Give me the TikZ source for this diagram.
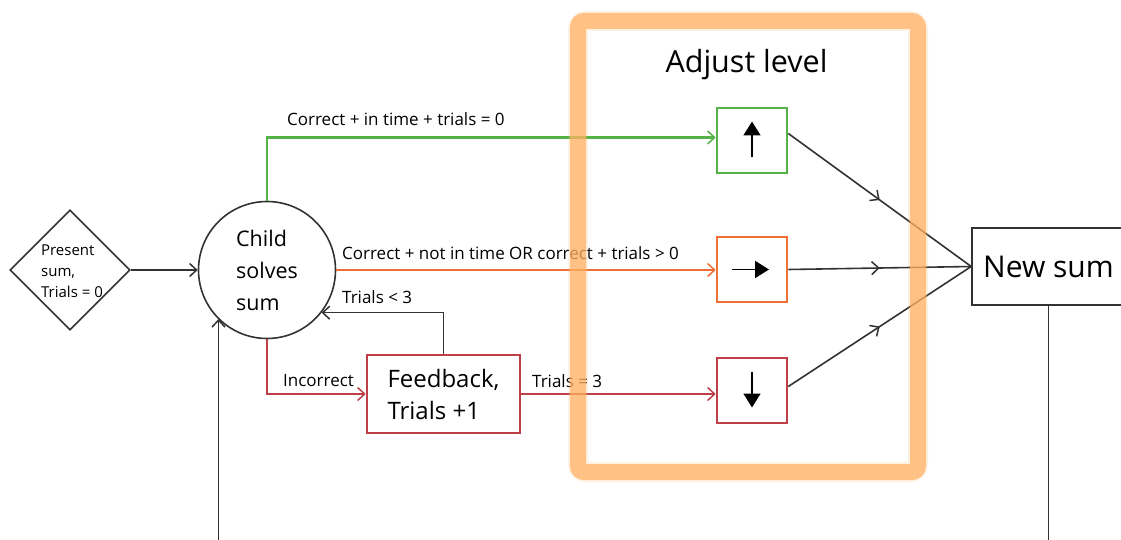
\documentclass[tikz,border=0pt]{standalone}
\usepackage{fontspec}
\setmainfont{Open Sans}
\usetikzlibrary{arrows.meta,decorations.markings,shapes.geometric,calc}

\definecolor{linegray}{RGB}{50,50,50}
\definecolor{okgreen}{RGB}{84,178,72}
\definecolor{slowor}{RGB}{238,112,52}
\definecolor{wrongred}{RGB}{189,64,72}
\definecolor{bandor}{RGB}{255,176,96}

\tikzset{
  opentip/.style={-{Straight Barb[length=7pt,width=13pt,line width=1.5pt]}},
  flow/.style={draw=linegray, line width=1.6pt},
  colflow/.style={draw=#1, line width=2.6pt},
  midtip/.style={postaction={decorate},
    decoration={markings, mark=at position 0.5 with
      {\arrow{Straight Barb[length=7pt,width=13pt,line width=1.5pt]}}}},
  levelbox/.style={draw=#1, line width=2.6pt, minimum width=70pt, minimum height=65pt, inner sep=0pt},
  stepbox/.style={draw=#1, line width=2.6pt, inner sep=0pt, align=left},
  lbl/.style={anchor=base west, inner sep=0pt, font=\fontsize{17}{20}\selectfont},
  bigarrow/.style={line width=1.8pt, -{Triangle[length=14pt,width=17pt]}}
}

\begin{document}
\begin{tikzpicture}[x=1pt,y=-1pt]
\useasboundingbox (0,0) rectangle (1121,540);

% start, decision and level boxes
\node[diamond, draw=linegray, line width=1.6pt, minimum width=120pt, minimum height=120pt, inner sep=0pt] (start) at (70,270) {};
\node[align=left, inner sep=0pt, font=\fontsize{15}{21}\selectfont] (starttxt) at (72,271) {Present\\sum,\\Trials = 0};

\node[circle, draw=linegray, line width=1.6pt, minimum size=137pt, inner sep=0pt, align=left,
      font=\fontsize{21.5}{32}\selectfont] (c) at (267,270) {Child\\solves\\sum};

\node[stepbox=wrongred, minimum width=153pt, minimum height=78pt,
      font=\fontsize{24}{32}\selectfont] (fb) at (443.5,394) {Feedback,\\Trials +1};

\node[levelbox=okgreen] (up) at (752,140.5) {};
\node[levelbox=slowor] (rt) at (752,269.5) {};
\node[levelbox=wrongred] (dn) at (752,390.5) {};

\node[draw=linegray, line width=1.6pt, minimum width=153pt, minimum height=77pt, inner sep=0pt,
      font=\fontsize{30}{32}\selectfont] (ns) at (1048.5,266.5) {New sum};

\node[inner sep=0pt, anchor=base, font=\fontsize{30.5}{34}\selectfont] (adj) at (746.5,73) {Adjust level};

% level symbols
\draw[bigarrow] ($(up.center)+(0,17)$) -- ($(up.center)+(0,-19)$);
\draw[bigarrow] ($(rt.center)+(-20,0)$) -- ($(rt.center)+(17,0)$);
\draw[bigarrow] ($(dn.center)+(0,-19)$) -- ($(dn.center)+(0,17)$);

% connectors
\draw[flow, opentip] (start.east) -- (c.west);
\draw[colflow=okgreen, opentip] (c.north) |- ([yshift=3pt]up.west);
\draw[colflow=slowor, opentip] (c.east) -- (c.east -| rt.west);
\draw[colflow=wrongred, opentip] (c.south) |- (fb.west);
\draw[colflow=wrongred, opentip] (fb.east) -- (fb.east -| dn.west);
\draw[flow, opentip] (fb.north) |- (c.-38);

\draw[flow, midtip] ([yshift=7pt]up.east) -- (ns.west);
\draw[flow, midtip] (rt.east) -- (ns.west);
\draw[flow, midtip] ([yshift=4pt]dn.east) -- (ns.west);

\coordinate (nsout) at (1048.5,540);
\draw[flow] (ns.south) -- (nsout);
\coordinate (backin) at (218.5,540);
\draw[flow, opentip] (backin) -- (backin |- c.225);

% connector labels
\node[lbl] (l1) at (287,126) {Correct + in time + trials = 0};
\node[lbl] (l2) at (342,259) {Correct + not in time OR correct + trials > 0};
\node[lbl] (l3) at (342,303) {Trials < 3};
\node[lbl] (l4) at (283,386) {Incorrect};
\node[lbl] (l5) at (532,387) {Trials = 3};

% highlighted frame round the level boxes
\draw[draw=bandor, line width=20pt, opacity=0.18, rounded corners=8pt] (578,21) rectangle (918,472);
\draw[draw=bandor, line width=16pt, opacity=0.72, rounded corners=6pt] (578,21) rectangle (918,472);
\end{tikzpicture}
\end{document}
